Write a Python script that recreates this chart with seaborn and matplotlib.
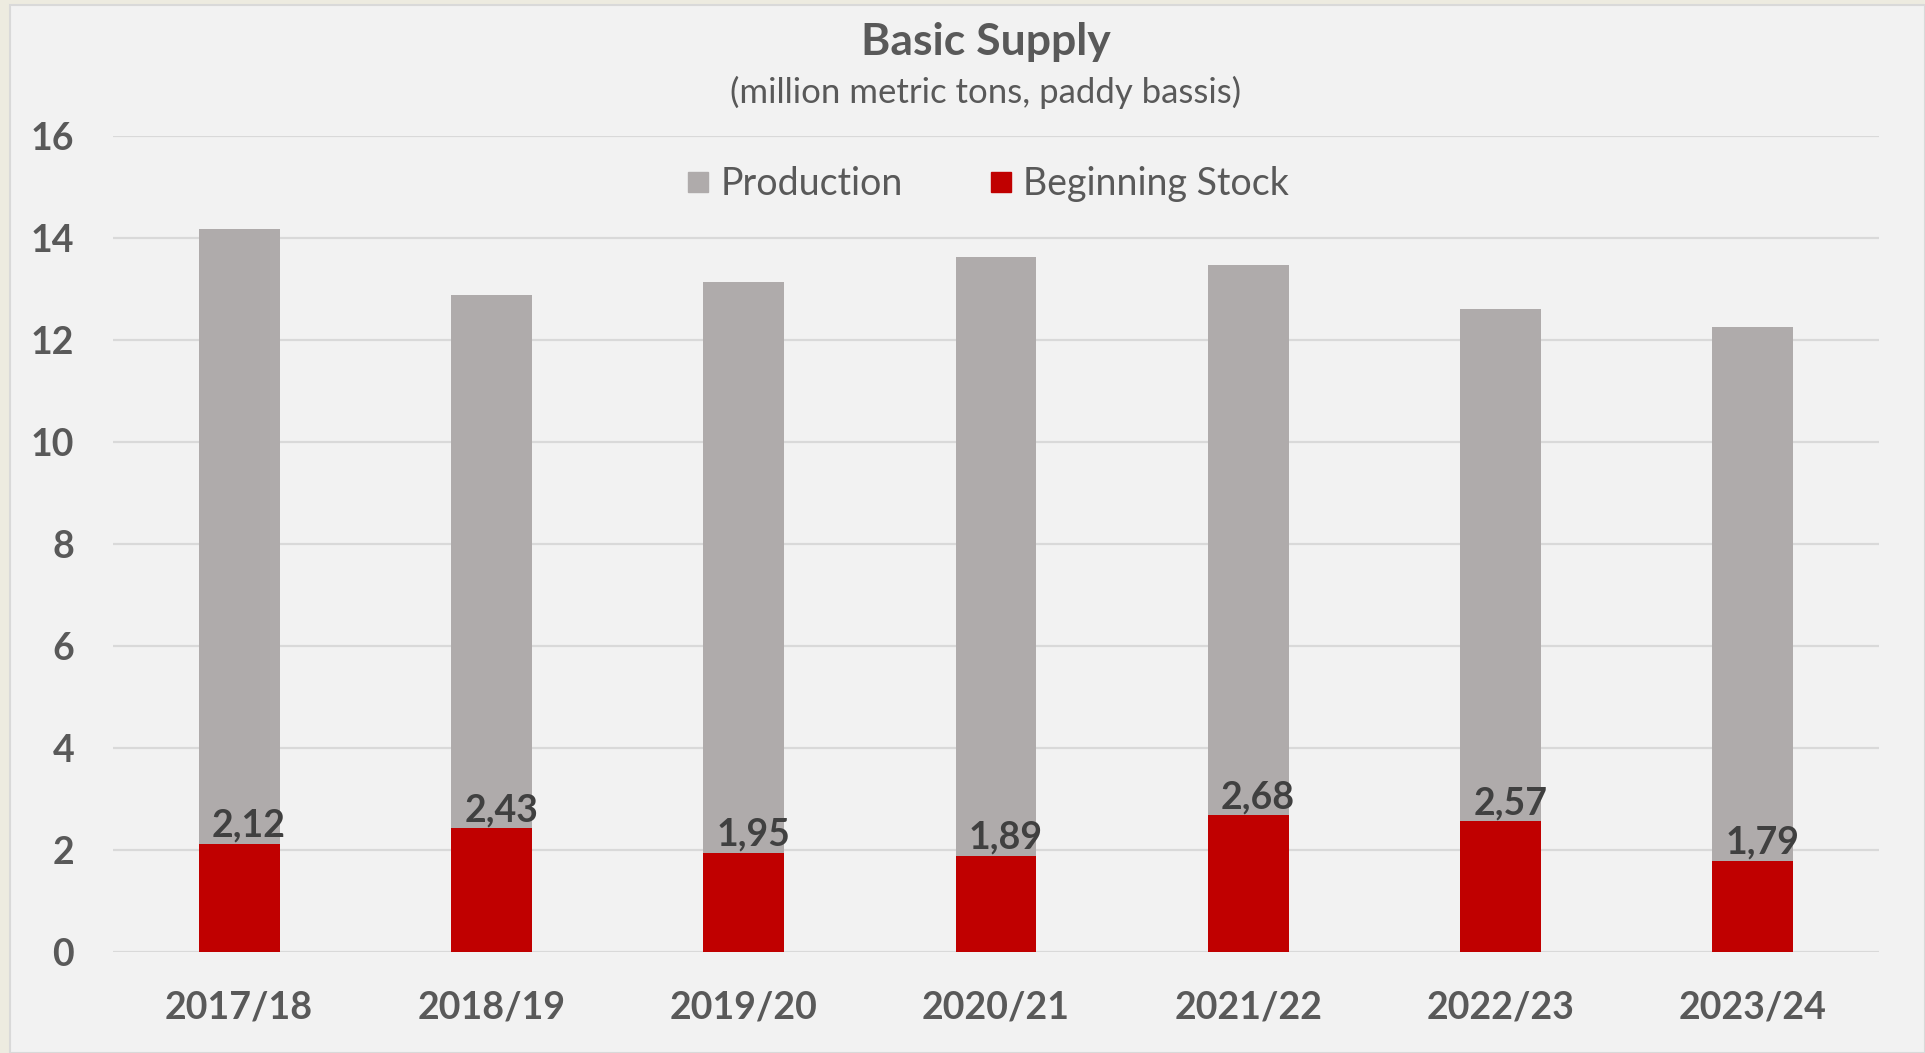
import pandas as pd
import matplotlib.pyplot as plt
import seaborn as sns
from matplotlib.patches import Rectangle
from matplotlib.lines import Line2D

years = ["2017/18", "2018/19", "2019/20", "2020/21", "2021/22", "2022/23", "2023/24"]
production = [14.17, 12.89, 13.13, 13.63, 13.47, 12.60, 12.26]
beginning_stock = [2.12, 2.43, 1.95, 1.89, 2.68, 2.57, 1.79]
stock_labels = ["2,12", "2,43", "1,95", "1,89", "2,68", "2,57", "1,79"]
y_ticks = [0, 2, 4, 6, 8, 10, 12, 14, 16]

GRAY = "#AFABAB"
RED = "#C00000"
TEXT = "#595959"

sns.set_style("white")
plt.rcParams["font.family"] = ["Lato", "DejaVu Sans"]

df = pd.DataFrame({"Year": years, "Production": production, "Stock": beginning_stock})

fig = plt.figure(figsize=(19.25, 10.53), dpi=100, facecolor="#EDEBE0")
# inner chart panel
fig.patches.append(Rectangle((10 / 1925, 0), 1 - 10 / 1925, 1 - 5 / 1053,
                             transform=fig.transFigure, facecolor="#F2F2F2",
                             edgecolor="#D9D9D9", linewidth=1.5, zorder=-10))

ax = fig.add_axes([113 / 1925, 1 - 952 / 1053, (1879 - 113) / 1925, (952 - 136) / 1053])
ax.set_facecolor("none")
ax.set_zorder(1)

sns.barplot(data=df, x="Year", y="Production", color=GRAY, width=0.32,
            saturation=1, linewidth=0, ax=ax, zorder=2)
sns.barplot(data=df, x="Year", y="Stock", color=RED, width=0.32,
            saturation=1, linewidth=0, ax=ax, zorder=3)

for i, (v, lab) in enumerate(zip(beginning_stock, stock_labels)):
    ax.annotate(lab, (i, v), xytext=(7, 5), textcoords="offset points",
                ha="center", va="baseline", fontsize=27, fontweight="bold",
                color="#404040", zorder=4)

ax.set_xlim(-0.5, len(years) - 0.5)
ax.set_ylim(0, 16)
ax.set_yticks(y_ticks)
ax.grid(axis="y", color="#D9D9D9", linewidth=1.6, zorder=0)
ax.set_axisbelow(True)
for s in ax.spines.values():
    s.set_visible(False)
ax.tick_params(axis="y", length=0, pad=28, labelsize=27, labelcolor=TEXT)
ax.tick_params(axis="x", length=0, pad=28, labelsize=27, labelcolor=TEXT)
for t in ax.get_xticklabels() + ax.get_yticklabels():
    t.set_fontweight("bold")
ax.set_xlabel("")
ax.set_ylabel("")

fig.text(986 / 1925, 1 - 42 / 1053, "Basic Supply", ha="center", va="center",
         fontsize=32, fontweight="bold", color=TEXT)
fig.text(986 / 1925, 1 - 92 / 1053, "(million metric tons, paddy bassis)",
         ha="center", va="center", fontsize=25, color=TEXT)

handles = [Line2D([], [], marker="s", linestyle="none", markersize=15,
                  markerfacecolor=GRAY, markeredgecolor=GRAY),
           Line2D([], [], marker="s", linestyle="none", markersize=15,
                  markerfacecolor=RED, markeredgecolor=RED)]
fig.legend(handles, ["Production", "Beginning Stock"], loc="center",
           bbox_to_anchor=(986 / 1925, 1 - 184 / 1053), ncol=2, frameon=False,
           fontsize=27, labelcolor=TEXT, handletextpad=0.2, columnspacing=2.2,
           handlelength=0.8)

fig.savefig("out.png", dpi=100, facecolor=fig.get_facecolor())
